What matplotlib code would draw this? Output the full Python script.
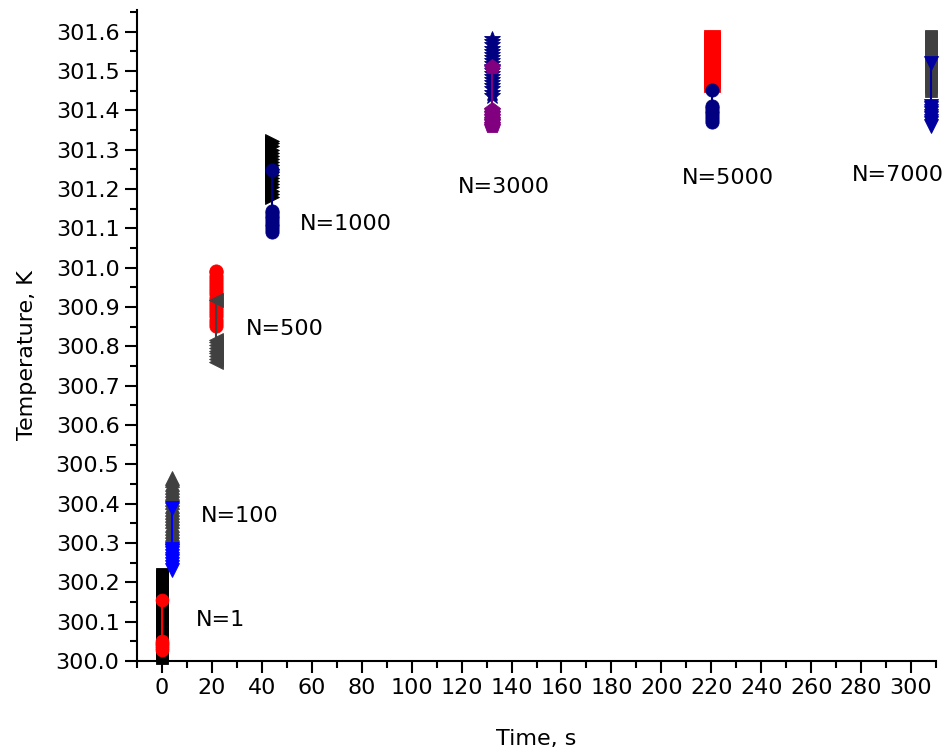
import matplotlib
matplotlib.use("Agg")
import matplotlib.pyplot as plt
from matplotlib.ticker import MultipleLocator, FormatStrFormatter

# ---- data ----
labels = ["N=1", "N=100", "N=500", "N=1000", "N=3000", "N=5000", "N=7000"]
times = [0.0, 4.2, 21.8, 44.2, 132.2, 220.2, 307.8]

# background series (columns of overlapping markers)
bg_n1 = [300.007, 300.015, 300.023, 300.031, 300.039, 300.047, 300.055, 300.063,
         300.071, 300.079, 300.087, 300.095, 300.103, 300.111, 300.119, 300.127,
         300.135, 300.143, 300.151, 300.159, 300.167, 300.175, 300.183, 300.191,
         300.199, 300.207, 300.215, 300.222]
bg_n100 = [300.315, 300.323, 300.331, 300.339, 300.347, 300.355, 300.363, 300.371,
           300.379, 300.387, 300.395, 300.403, 300.411, 300.419, 300.427, 300.435,
           300.443, 300.451, 300.459, 300.466]
bg_n500 = [300.852, 300.860, 300.868, 300.876, 300.884, 300.892, 300.900, 300.908,
           300.916, 300.924, 300.932, 300.940, 300.948, 300.956, 300.964, 300.972,
           300.980, 300.988, 300.992]
bg_n1000 = [301.180, 301.188, 301.196, 301.204, 301.212, 301.220, 301.228, 301.236,
            301.244, 301.252, 301.260, 301.268, 301.276, 301.284, 301.292, 301.300,
            301.308, 301.316, 301.323]
bg_n3000 = [301.437, 301.445, 301.453, 301.461, 301.469, 301.477, 301.485, 301.493,
            301.501, 301.509, 301.517, 301.525, 301.533, 301.541, 301.549, 301.557,
            301.565, 301.573, 301.582]
bg_n5000 = [301.468, 301.476, 301.484, 301.492, 301.500, 301.508, 301.516, 301.524,
            301.532, 301.540, 301.548, 301.556, 301.564, 301.572, 301.580, 301.585]
bg_n7000 = [301.450, 301.458, 301.466, 301.474, 301.482, 301.490, 301.498, 301.506,
            301.514, 301.522, 301.530, 301.538, 301.546, 301.554, 301.562, 301.570,
            301.578, 301.586, 301.590]

# foreground series (cluster + upper point joined by a line)
fg_n1 = [300.028, 300.033, 300.038, 300.043, 300.047, 300.051, 300.155]
fg_n100 = [300.232, 300.239, 300.246, 300.253, 300.260, 300.267, 300.274, 300.280,
           300.285, 300.389]
fg_n500 = [300.761, 300.768, 300.775, 300.782, 300.789, 300.796, 300.803, 300.810,
           300.817, 300.918]
fg_n1000 = [301.091, 301.098, 301.105, 301.112, 301.118, 301.125, 301.131, 301.138,
            301.145, 301.249]
fg_n3000 = [301.359, 301.366, 301.372, 301.379, 301.386, 301.393, 301.400, 301.511]
fg_n5000 = [301.371, 301.378, 301.385, 301.392, 301.398, 301.405, 301.412, 301.452]
fg_n7000 = [301.360, 301.367, 301.373, 301.380, 301.386, 301.393, 301.399, 301.406,
            301.412, 301.521]

# label anchor positions (data coords)
label_x = [13.4, 15.4, 33.8, 55.4, 118.6, 208.2, 276.2]
label_y = [300.104, 300.369, 300.845, 301.112, 301.206, 301.229, 301.236]

bg_series = [bg_n1, bg_n100, bg_n500, bg_n1000, bg_n3000, bg_n5000, bg_n7000]
fg_series = [fg_n1, fg_n100, fg_n500, fg_n1000, fg_n3000, fg_n5000, fg_n7000]

# styles
bg_style = [("#000000", "s", 8.6), ("#404040", "^", 9.5), ("#FF0000", "o", 9.5),
            ("#000000", ">", 9.5), ("#000080", "*", 12.0), ("#FF0000", "s", 11.5),
            ("#404040", "s", 9.0)]
fg_style = [("#FF0000", "o", 9.2), ("#0000FF", "v", 9.5), ("#404040", "<", 9.5),
            ("#000080", "o", 9.5), ("#800080", "p", 11.5), ("#000080", "o", 9.5),
            ("#0000A0", "v", 9.5)]

fig = plt.figure(figsize=(9.48, 7.56), dpi=100)
ax = fig.add_axes([137 / 948, 1 - 661 / 756, (936 - 137) / 948, (661 - 10) / 756])

for x, ys, (c, m, ms) in zip(times, bg_series, bg_style):
    ax.plot([x] * len(ys), ys, linestyle="none", marker=m, ms=ms, color=c,
            mec=c, mew=0.6, zorder=2, clip_on=False)
for x, ys, (c, m, ms) in zip(times, fg_series, fg_style):
    ax.plot([x] * len(ys), ys, linestyle="-", lw=1.5, marker=m, ms=ms, color=c,
            mec=c, mew=0.6, zorder=3, clip_on=False)

for lx, ly, t in zip(label_x, label_y, labels):
    ax.text(lx, ly, t, fontsize=16, ha="left", va="center", color="black")

ax.set_xlim(-10, 310)
ax.set_ylim(300.0, 301.655)

ax.xaxis.set_major_locator(MultipleLocator(20))
ax.xaxis.set_minor_locator(MultipleLocator(10))
ax.yaxis.set_major_locator(MultipleLocator(0.1))
ax.yaxis.set_minor_locator(MultipleLocator(0.05))
ax.yaxis.set_major_formatter(FormatStrFormatter("%.1f"))
ax.set_xticks([v for v in range(0, 301, 20)])

for s in ["top", "right"]:
    ax.spines[s].set_visible(False)
for s in ["left", "bottom"]:
    ax.spines[s].set_linewidth(1.5)

ax.tick_params(which="major", direction="out", length=8.6, width=1.5,
               labelsize=16, pad=4)
ax.tick_params(which="minor", direction="out", length=5, width=1.5)

ax.set_xlabel("Time, s", fontsize=16)
ax.set_ylabel("Temperature, K", fontsize=16)
ax.xaxis.set_label_coords(0.499, -0.105)
ax.yaxis.set_label_coords(-0.125, 0.47)

fig.savefig("out.png", dpi=100)
